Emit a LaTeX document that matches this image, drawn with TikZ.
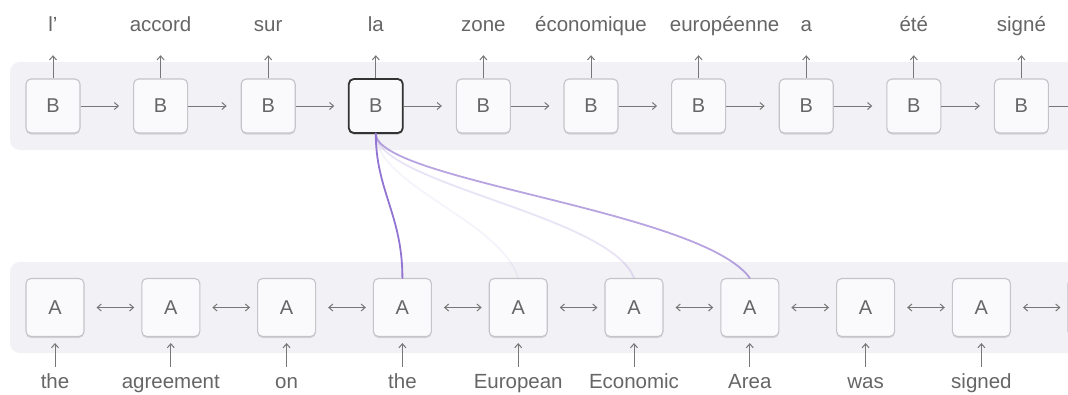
\documentclass[tikz,border=0pt]{standalone}
\usepackage{fontspec}
\setmainfont{Liberation Sans}
\usetikzlibrary{arrows.meta, shadows}
\definecolor{panelgray}{HTML}{F2F1F5}
\definecolor{boxfill}{HTML}{FAFAFC}
\definecolor{boxline}{HTML}{C4C4CA}
\definecolor{wordgray}{HTML}{666666}
\definecolor{arrowgray}{HTML}{777777}
\definecolor{attn}{HTML}{9274D2}

\begin{document}
\begin{tikzpicture}[x=1pt, y=-1pt,
        >={Straight Barb[length=4pt, width=7pt]},
        cell/.style={draw=boxline, line width=1.1pt, fill=boxfill, rounded corners=5pt,
            inner sep=0pt, text=wordgray, font=\fontsize{20}{23}\selectfont,
            drop shadow={shadow xshift=0pt, shadow yshift=-1.5pt, fill=black, opacity=.12}},
        word/.style={text=wordgray, font=\fontsize{20.5}{23}\selectfont, inner sep=0pt,
            text height=14pt, text depth=4pt},
        flow/.style={draw=arrowgray, line width=1pt, ->},
        link/.style={draw=attn, line width=1.8pt, line cap=round}
    ]
        \clip (0,0) rectangle (1068,394);
        \fill[white] (0,0) rectangle (1068,394);

        % the two rows
        \fill[panelgray, rounded corners=10pt] (10,62) rectangle (1100,150);
        \fill[panelgray, rounded corners=10pt] (10,262) rectangle (1100,353);

        % decoder (B) row
        \foreach \w/\dx [count=\i] in {l’/0, accord/0, sur/0, la/0, zone/0, économique/0, européenne/26, a/0, été/0, signé/0} {
            \node[cell, minimum size=54pt] (B\i) at ({53+107.6*(\i-1)}, 106) {B};
            \node[word] (fr\i) at ({53+107.6*(\i-1)+\dx}, 26) {\w};
            \draw[flow, shorten >=20pt] (B\i.north) -- (B\i.north |- fr\i.south);
        }
        \node[cell, minimum size=54pt, draw=black!80, line width=1.8pt] at (B4) {B};
        \foreach \i [evaluate=\i as \j using int(\i+1)] in {1,...,9}
            \draw[flow, shorten >=14pt] (B\i.east) -- (B\j.west);
        \coordinate (Bout) at (1090,106);
        \draw[flow] (B10.east) -- (Bout);

        % encoder (A) row
        \foreach \i in {1,...,9}
            \node[cell, minimum size=58pt] (A\i) at ({55+115.8*(\i-1)}, 307.5) {A};
        \node[cell, minimum size=58pt] (A10) at (1097,307.5) {};
        \foreach \w [count=\i] in {the, agreement, on, the, European, Economic, Area, was, signed} {
            \node[word] (en\i) at ({55+115.8*(\i-1)}, 383) {\w};
            \draw[flow, shorten <=7pt, shorten >=6pt] (en\i.north) -- (A\i.south);
        }
        \foreach \i [evaluate=\i as \j using int(\i+1)] in {1,...,9}
            \draw[flow, <->, shorten <=12pt, shorten >=7pt] (A\i.east) -- (A\j.west);

        % attention from "la"
        \draw[link, opacity=.08] (B4.south) .. controls +(0,52) and +(-18,-58) .. (A5.north);
        \draw[link, opacity=.2] (B4.south) .. controls +(0,50) and +(-24,-63) .. (A6.north);
        \draw[link, opacity=.65] (B4.south) .. controls +(0,47) and +(-50,-68) .. (A7.north);
        \draw[link] (B4.south) .. controls +(0,57) and +(0,-63) .. (A4.north);
\end{tikzpicture}
\end{document}
